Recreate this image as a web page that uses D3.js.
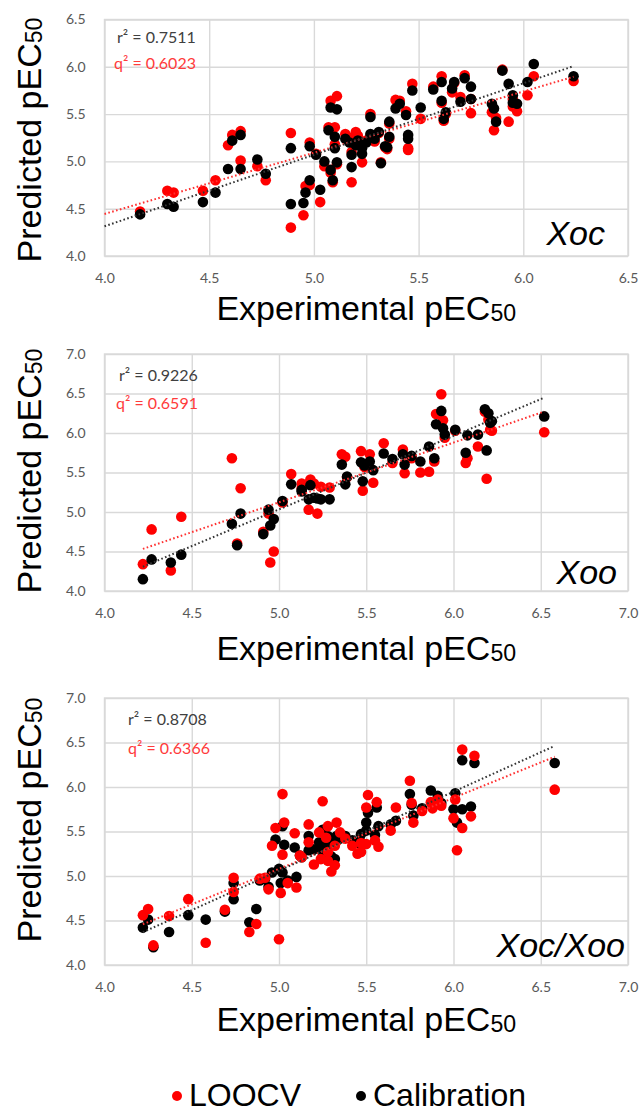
<!DOCTYPE html>
<html>
<head>
<meta charset="utf-8">
<script src="https://cdn.jsdelivr.net/npm/d3@7"></script>
<style>
  body { margin: 0; background: #fff; }
  svg { display: block; }
</style>
</head>
<body>
<svg id="chart" width="643" height="1115"></svg>
<script>
// ---- data (experimental, calibration, LOOCV) ----
const xocExp = [4.17,4.30,4.33,4.47,4.53,4.59,4.61,4.65,4.65,4.73,4.77,4.89,4.89,4.95,4.96,4.98,4.98,5.01,5.03,5.05,
  5.07,5.08,5.08,5.09,5.10,5.10,5.11,5.11,5.15,5.17,5.18,5.18,5.20,5.21,5.23,5.23,5.25,5.27,5.27,5.29,
  5.31,5.32,5.34,5.35,5.36,5.36,5.39,5.41,5.44,5.45,5.45,5.47,5.51,5.57,5.61,5.61,5.62,5.63,5.66,5.67,
  5.70,5.72,5.75,5.75,5.85,5.86,5.87,5.90,5.93,5.95,5.95,5.97,6.02,6.05,6.24];
const xocCal = [4.44,4.55,4.52,4.57,4.67,4.92,5.22,5.28,4.92,5.02,4.87,4.55,5.14,4.56,4.67,4.80,5.16,5.07,4.70,5.00,
  5.33,5.57,4.91,4.80,5.26,5.14,5.55,4.99,5.24,5.20,5.07,4.94,5.17,5.22,5.08,5.14,5.20,5.47,5.29,5.24,
  5.31,4.98,5.16,5.15,5.26,5.42,5.56,5.61,5.49,5.28,5.24,5.75,5.57,5.76,5.84,5.64,5.45,5.52,5.77,5.84,
  5.63,5.88,5.79,5.66,5.61,5.56,5.42,5.96,5.82,5.70,5.62,5.61,5.84,6.03,5.90];
const xocLoo = [4.47,4.69,4.67,4.69,4.80,5.17,5.28,5.32,5.01,4.95,4.80,4.30,5.30,4.43,4.74,4.75,5.20,5.08,4.57,4.95,
  5.36,5.64,4.88,4.78,5.36,5.18,5.69,4.97,5.29,5.25,5.10,4.78,5.31,5.27,4.99,5.19,5.22,5.50,5.27,5.21,
  5.30,4.99,5.15,5.13,5.24,5.40,5.65,5.64,5.53,5.14,5.12,5.82,5.45,5.79,5.90,5.62,5.43,5.50,5.73,5.83,
  5.68,5.91,5.51,5.66,5.52,5.33,5.46,5.97,5.42,5.66,5.58,5.53,5.70,5.90,5.85];

const xooExp = [4.22,4.27,4.38,4.44,4.73,4.76,4.78,4.91,4.94,4.95,4.97,5.02,5.07,5.13,5.13,5.17,5.18,5.20,5.22,5.24,
  5.29,5.36,5.38,5.39,5.47,5.48,5.49,5.52,5.54,5.60,5.65,5.71,5.72,5.76,5.81,5.86,5.89,5.90,5.93,5.94,
  5.95,6.01,6.07,6.08,6.14,6.18,6.19,6.20,6.21,6.22,6.52];
const xooCal = [4.15,4.40,4.36,4.46,4.85,4.58,4.98,4.72,5.03,4.83,4.91,5.14,5.35,5.28,5.26,5.16,5.34,5.18,5.17,5.16,
  5.16,5.60,5.35,5.45,5.63,5.39,5.59,5.64,5.53,5.74,5.67,5.73,5.60,5.71,5.64,5.83,5.68,6.11,6.28,6.06,
  5.98,6.04,5.75,5.97,5.98,6.30,5.78,6.25,6.13,6.15,6.21];
const xooLoo = [4.34,4.78,4.26,4.94,5.68,4.60,5.30,4.75,4.98,4.36,4.50,5.12,5.48,5.36,5.30,5.03,5.41,5.36,4.98,5.32,
  5.31,5.73,5.70,5.44,5.77,5.27,5.57,5.73,5.37,5.87,5.62,5.79,5.49,5.68,5.50,5.51,5.64,6.24,6.49,6.16,
  5.94,6.03,5.62,5.68,5.83,6.27,5.42,6.17,6.04,6.03,6.01];

const mixExp = [4.22,4.25,4.28,4.37,4.48,4.58,4.69,4.74,4.74,4.83,4.87,4.89,4.92,4.94,4.96,4.98,5.00,5.01,5.02,5.02,
  5.03,5.05,5.09,5.10,5.12,5.13,5.17,5.17,5.20,5.23,5.24,5.25,5.27,5.28,5.28,5.28,5.30,5.32,5.32,5.33,
  5.35,5.38,5.42,5.45,5.47,5.47,5.50,5.50,5.51,5.55,5.56,5.57,5.64,5.67,5.75,5.76,5.77,5.82,5.87,5.88,
  5.91,5.93,6.01,6.00,6.02,6.05,6.05,6.10,6.12,6.58];
const mixCal = [4.42,4.51,4.20,4.37,4.56,4.51,4.60,4.74,4.92,4.48,4.63,4.95,4.97,4.88,5.04,5.41,5.08,4.92,5.56,5.04,
  5.35,4.95,5.32,4.99,5.23,5.21,5.29,5.45,5.30,5.38,5.29,5.52,5.40,5.35,5.24,5.45,5.22,5.41,5.19,5.45,
  5.42,5.45,5.40,5.37,5.47,5.38,5.51,5.60,5.71,5.46,5.77,5.56,5.58,5.62,5.92,5.80,5.68,5.76,5.96,5.80,
  5.90,5.82,5.93,5.75,5.60,6.30,5.75,5.78,6.27,6.27];
const mixLoo = [4.56,4.63,4.22,4.55,4.74,4.25,4.62,4.82,4.98,4.37,4.46,4.97,4.98,4.85,5.34,5.54,4.29,4.81,5.92,5.24,
  5.60,4.92,5.48,4.87,5.23,5.21,5.38,5.58,5.13,5.49,5.19,5.84,5.43,5.27,5.17,5.56,5.05,5.34,5.12,5.60,
  5.49,5.42,5.34,5.25,5.37,5.27,5.36,5.77,5.91,5.40,5.83,5.33,5.51,5.77,6.07,5.82,5.60,5.73,5.83,5.76,
  5.86,5.79,5.86,5.65,5.29,6.42,5.54,5.67,6.35,5.97];

const ticks65 = [4.0, 4.5, 5.0, 5.5, 6.0, 6.5];
const ticks70 = [4.0, 4.5, 5.0, 5.5, 6.0, 6.5, 7.0];
const panelNames = ["Xoc", "Xoo", "Xoc/Xoo"];
const r2Labels = ["r\u00B2 = 0.7511", "r\u00B2 = 0.9226", "r\u00B2 = 0.8708"];
const q2Labels = ["q\u00B2 = 0.6023", "q\u00B2 = 0.6591", "q\u00B2 = 0.6366"];
const legendNames = ["LOOCV", "Calibration"];

// ---- layout ----
const RED = "#ff0000";
const left = 104.5, right = 628;

const panels = [
  { exp: xocExp, cal: xocCal, loo: xocLoo, ticks: ticks65, top: 19.5, bottom: 256,
    lineFrom: 4.0, redOnTop: false, name: panelNames[0], nameX: 605, nameY: 245,
    r2: r2Labels[0], q2: q2Labels[0], r2Pos: [117, 43], q2Pos: [114, 69],
    xTitleY: 320, yTitleY: 140 },
  { exp: xooExp, cal: xooCal, loo: xooLoo, ticks: ticks70, top: 354, bottom: 591,
    lineFrom: null, redOnTop: false, name: panelNames[1], nameX: 617, nameY: 584,
    r2: r2Labels[1], q2: q2Labels[1], r2Pos: [119, 381], q2Pos: [116, 409],
    xTitleY: 660, yTitleY: 471 },
  { exp: mixExp, cal: mixCal, loo: mixLoo, ticks: ticks70, top: 698, bottom: 965,
    lineFrom: null, redOnTop: true, name: panelNames[2], nameX: 625, nameY: 957,
    r2: r2Labels[2], q2: q2Labels[2], r2Pos: [128, 725], q2Pos: [128, 754],
    xTitleY: 1031, yTitleY: 820 }
];

const svg = d3.select("#chart");
svg.append("rect").attr("width", 643).attr("height", 1115).attr("fill", "#fff");

function fit(xs, ys) {
  const mx = d3.mean(xs), my = d3.mean(ys);
  let sxy = 0, sxx = 0;
  xs.forEach((v, i) => { sxy += (v - mx) * (ys[i] - my); sxx += (v - mx) * (v - mx); });
  const slope = sxy / sxx;
  return { slope: slope, icpt: my - slope * mx };
}

function addTitle(sel, main) {
  sel.append("tspan").text(main);
  sel.append("tspan").text("50").attr("font-size", "0.68em").attr("dy", "0.06em");
}

panels.forEach(p => {
  const tmax = p.ticks[p.ticks.length - 1];
  const x = d3.scaleLinear().domain([4, tmax]).range([left, right]);
  const y = d3.scaleLinear().domain([4, tmax]).range([p.bottom, p.top]);
  const g = svg.append("g");

  // horizontal grid + y labels
  g.append("g")
    .attr("transform", `translate(${left},0)`)
    .call(d3.axisLeft(y).tickValues(p.ticks).tickSize(-(right - left)).tickPadding(19).tickFormat(d3.format(".1f")))
    .call(a => a.select(".domain").remove())
    .call(a => a.selectAll("line").attr("stroke", "#d9d9d9").attr("stroke-width", 1.4))
    .call(a => a.selectAll("text").attr("fill", "#595959"))
    .attr("font-family", "Lato, sans-serif").attr("font-size", 14);

  // vertical grid + x labels
  g.append("g")
    .attr("transform", `translate(0,${p.bottom})`)
    .call(d3.axisBottom(x).tickValues(p.ticks).tickSize(-(p.bottom - p.top)).tickPadding(17).tickFormat(d3.format(".1f")))
    .call(a => a.select(".domain").remove())
    .call(a => a.selectAll("line").attr("stroke", "#d9d9d9").attr("stroke-width", 1.4))
    .call(a => a.selectAll("text").attr("fill", "#595959"))
    .attr("font-family", "Lato, sans-serif").attr("font-size", 14);

  g.append("rect")
    .attr("x", left).attr("y", p.top)
    .attr("width", right - left).attr("height", p.bottom - p.top)
    .attr("fill", "none").attr("stroke", "#d9d9d9").attr("stroke-width", 1.4);

  const pts = p.exp.map((v, i) => ({ x: v, cal: p.cal[i], loo: p.loo[i] }));
  const series = p.redOnTop ? ["cal", "loo"] : ["loo", "cal"];
  series.forEach(key => {
    g.append("g").selectAll("circle")
      .data(pts)
      .enter().append("circle")
      .attr("cx", d => x(d.x))
      .attr("cy", d => y(d[key]))
      .attr("r", 5.3)
      .attr("fill", key === "loo" ? RED : "#000");
  });

  // dotted linear trend lines
  const x0 = p.lineFrom != null ? p.lineFrom : d3.min(p.exp);
  const x1 = d3.max(p.exp);
  [["loo", "#ff3030"], ["cal", "#333"]].forEach(([key, col]) => {
    const f = fit(p.exp, p[key]);
    g.append("line")
      .attr("x1", x(x0)).attr("y1", y(f.icpt + f.slope * x0))
      .attr("x2", x(x1)).attr("y2", y(f.icpt + f.slope * x1))
      .attr("stroke", col).attr("stroke-width", 2)
      .attr("stroke-dasharray", "1.6,2.4");
  });

  // r2 / q2 labels
  g.append("text").attr("x", p.r2Pos[0]).attr("y", p.r2Pos[1])
    .attr("font-family", "Lato, sans-serif").attr("font-size", 16).attr("fill", "#404040")
    .text(p.r2);
  g.append("text").attr("x", p.q2Pos[0]).attr("y", p.q2Pos[1])
    .attr("font-family", "Lato, sans-serif").attr("font-size", 16).attr("fill", "#ff3b3b")
    .text(p.q2);

  // species label
  g.append("text").attr("x", p.nameX).attr("y", p.nameY)
    .attr("text-anchor", "end")
    .attr("font-family", "Liberation Sans, Arial, sans-serif")
    .attr("font-style", "italic").attr("font-size", 34)
    .text(p.name);

  // axis titles
  const xt = g.append("text")
    .attr("x", (left + right) / 2).attr("y", p.xTitleY)
    .attr("text-anchor", "middle")
    .attr("font-family", "Liberation Sans, Arial, sans-serif").attr("font-size", 34);
  addTitle(xt, "Experimental pEC");

  const yt = g.append("text")
    .attr("transform", `translate(41,${p.yTitleY}) rotate(-90)`)
    .attr("text-anchor", "middle")
    .attr("font-family", "Liberation Sans, Arial, sans-serif").attr("font-size", 34);
  addTitle(yt, "Predicted pEC");
});

// legend
const legend = svg.append("g").attr("font-family", "Liberation Sans, Arial, sans-serif").attr("font-size", 32);
const legendX = [177, 361];
legendNames.forEach((name, i) => {
  legend.append("circle")
    .attr("cx", legendX[i]).attr("cy", 1096).attr("r", 5)
    .attr("fill", i === 0 ? RED : "#000");
  legend.append("text")
    .attr("x", legendX[i] + 12).attr("y", 1106)
    .text(name);
});
</script>
</body>
</html>
